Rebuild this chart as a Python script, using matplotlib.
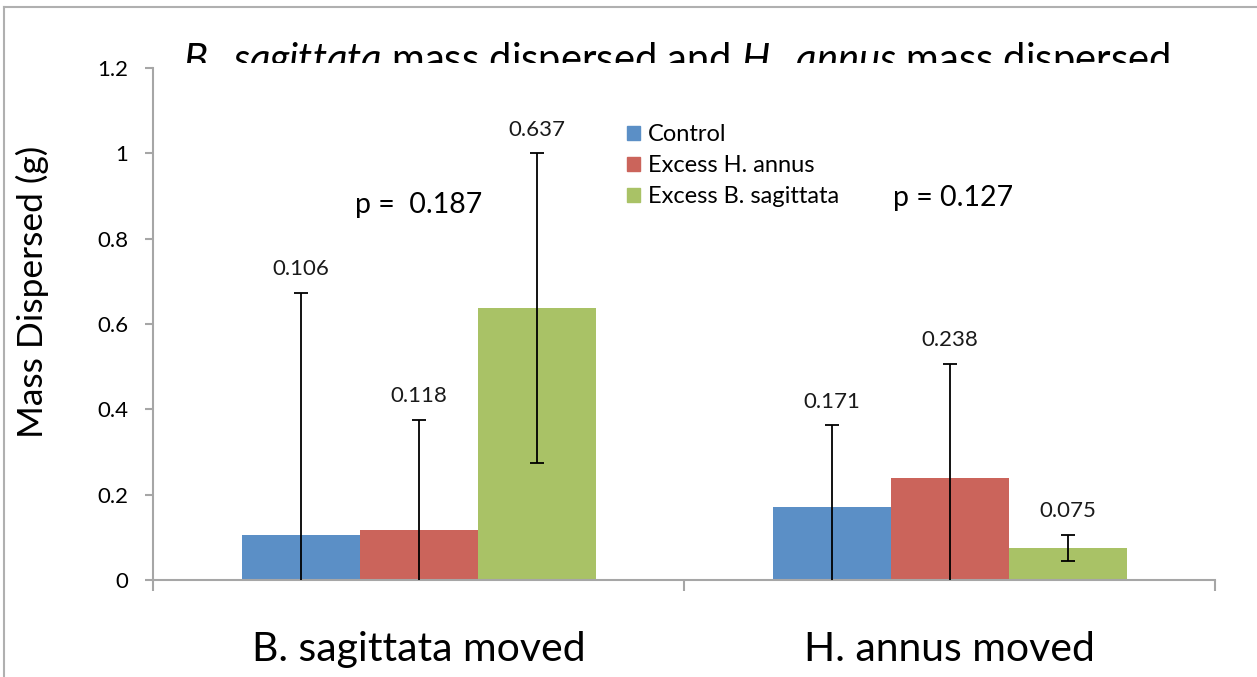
import matplotlib
matplotlib.use("Agg")
import matplotlib.pyplot as plt
import numpy as np
from matplotlib.patches import Patch
from matplotlib.lines import Line2D

plt.rcParams['font.family'] = ['Lato', 'DejaVu Sans']
plt.rcParams['mathtext.fontset'] = 'custom'
plt.rcParams['mathtext.rm'] = 'Lato'
plt.rcParams['mathtext.it'] = 'Lato:italic'

groups = ["B. sagittata moved", "H. annus moved"]
series = ["Control", "Excess H. annus", "Excess B. sagittata"]
control = [0.106, 0.171]
excess_h = [0.118, 0.238]
excess_b = [0.637, 0.075]
control_err = [0.567, 0.192]
excess_h_err = [0.257, 0.268]
excess_b_err = [0.363, 0.031]
p_values = ["p =  0.187", "p = 0.127"]

colors = ["#5b8fc6", "#cb645b", "#a9c266"]
grey = "#a6a6a6"

fig = plt.figure(figsize=(12.57, 6.77), dpi=100)
ax = fig.add_axes([153/1257, 1 - 580/677, 1062/1257, 512/677])

x = np.arange(len(groups))
w = 2/9
for i, (vals, errs) in enumerate([(control, control_err), (excess_h, excess_h_err), (excess_b, excess_b_err)]):
    pos = x + (i - 1) * w
    ax.bar(pos, vals, w, color=colors[i], label=series[i], zorder=2,
           yerr=errs, error_kw=dict(ecolor="black", elinewidth=1.3, capsize=5, capthick=1.3, zorder=3))
    for xp, v, e in zip(pos, vals, errs):
        ax.annotate(f"{v:.3f}", (xp, v + e), xytext=(0, 17), textcoords="offset points",
                    ha="center", va="center", fontsize=16, color="#1a1a1a")

ax.set_xlim(-0.5, 1.5)
ax.set_ylim(0, 1.2)
ax.set_yticks(np.arange(0, 1.21, 0.2))
ax.set_yticklabels(["0", "0.2", "0.4", "0.6", "0.8", "1", "1.2"])
ax.tick_params(axis="y", length=6, width=1.5, color=grey, labelsize=16, pad=12)
ax.set_xticks(x)
ax.set_xticklabels(groups, fontsize=29.5)
ax.tick_params(axis="x", length=0, pad=37)
ax.set_xticks([-0.5, 0.5, 1.5], minor=True)
ax.tick_params(axis="x", which="minor", length=8, width=1.5, color=grey)
for s in ["top", "right"]:
    ax.spines[s].set_visible(False)
for s in ["left", "bottom"]:
    ax.spines[s].set_color(grey)
    ax.spines[s].set_linewidth(1.5)

fig.text(32/1257, 1 - 292/677, "Mass Dispersed (g)", rotation=90, ha="center", va="center", fontsize=25.5)

ax.text(0.19, 0.732, p_values[0], transform=ax.transAxes, fontsize=20.5, va="center", ha="left")
ax.text(0.697, 0.746, p_values[1], transform=ax.transAxes, fontsize=20.5, va="center", ha="left")

handles = [Patch(color=c) for c in colors]
ax.legend(handles, series, loc="upper left", bbox_to_anchor=(0.446, 0.89), frameon=False,
          fontsize=17, handlelength=0.55, handleheight=0.55, handletextpad=0.35,
          labelspacing=0.42, borderpad=0, borderaxespad=0)

# clipped title
tax = fig.add_axes([0, 1 - 63/677, 1, 55/677])
tax.axis("off")
tax.set_xlim(0, 1)
tax.set_ylim(0, 1)
tax.text(676/1257, -9/55, r"$\mathit{B.\ sagittata}$ mass dispersed and $\mathit{H.\ annus}$ mass dispersed",
         ha="center", va="baseline", fontsize=28.7, clip_on=True)

# outer frame
fig.add_artist(Line2D([4/1257, 4/1257], [0, 1 - 7/677], color="#b0b0b0", lw=1.5))
fig.add_artist(Line2D([4/1257, 1], [1 - 7/677, 1 - 7/677], color="#b0b0b0", lw=1.5))

fig.savefig("out.png", dpi=100)
